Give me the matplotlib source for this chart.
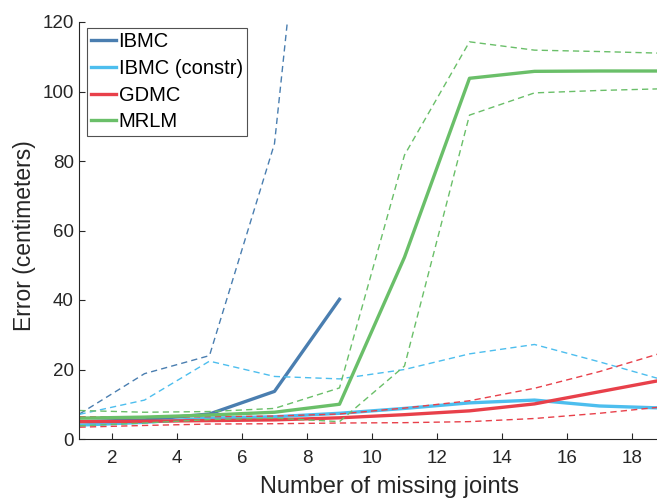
import numpy as np
import matplotlib.pyplot as plt

plt.rcParams['font.family'] = ['Liberation Sans', 'DejaVu Sans']

# number of missing joints
joints = [1, 3, 5, 7, 9, 11, 13, 15, 17, 19]
joints_ibmc = [1, 3, 5, 7, 9]

# mean error and upper/lower bounds (cm)
ibmc_mean = [5.0, 5.5, 7.2, 13.7, 40.2]
ibmc_hi = [7.2, 18.8, 24.0, 85.0, 262.0]
ibmc_lo = [-1.0, -7.8, -9.6, -57.6, -181.6]

constr_mean = [4.0, 4.8, 6.0, 6.4, 7.4, 8.8, 10.4, 11.2, 9.5, 8.9]
constr_hi = [7.1, 11.2, 22.4, 18.0, 17.3, 20.0, 24.5, 27.2, 22.2, 16.9]
constr_lo = [-1.0, -1.6, -10.4, -5.2, -2.5, -2.4, -3.7, -4.8, -3.2, -0.5]

gdmc_mean = [5.0, 5.1, 5.3, 5.5, 6.1, 7.0, 8.1, 10.1, 13.6, 17.1]
gdmc_hi = [6.4, 6.3, 6.4, 6.6, 7.2, 8.9, 11.0, 14.6, 19.4, 25.0]
gdmc_lo = [3.4, 3.9, 4.3, 4.4, 4.6, 4.7, 5.0, 5.9, 7.4, 9.3]

mrlm_mean = [6.0, 6.3, 6.9, 7.7, 10.0, 52.3, 103.8, 105.8, 105.9, 105.9]
mrlm_hi = [8.2, 7.7, 7.9, 8.8, 14.7, 81.7, 114.3, 111.9, 111.5, 111.0]
mrlm_lo = [3.8, 4.6, 5.6, 6.0, 5.0, 21.0, 93.2, 99.6, 100.3, 100.8]

names = ['IBMC', 'IBMC (constr)', 'GDMC', 'MRLM']
colors = ['#4a7eb0', '#4dbeee', '#e8404a', '#6abf69']

series = [
    (joints_ibmc, ibmc_mean, ibmc_hi, ibmc_lo),
    (joints, constr_mean, constr_hi, constr_lo),
    (joints, gdmc_mean, gdmc_hi, gdmc_lo),
    (joints, mrlm_mean, mrlm_hi, mrlm_lo),
]

fig = plt.figure(figsize=(6.57, 5.0), dpi=100)
ax = fig.add_axes([0.121, 0.122, 0.879, 0.834])

for (x, m, hi, lo), name, c in zip(series, names, colors):
    ax.plot(x, hi, color=c, lw=1.0, ls='--', dashes=(4.5, 3))
    ax.plot(x, lo, color=c, lw=1.0, ls='--', dashes=(4.5, 3))
    ax.plot(x, m, color=c, lw=2.4, label=name)

ax.set_xlim(1, 18.77)
ax.set_ylim(0, 120)
ax.set_xticks(np.arange(2, 19, 2))
ax.set_yticks(np.arange(0, 121, 20))

for s in ['top', 'right']:
    ax.spines[s].set_visible(False)
for s in ['left', 'bottom']:
    ax.spines[s].set_color('#262626')
    ax.spines[s].set_linewidth(0.8)
ax.tick_params(direction='in', length=4, width=0.8, colors='#262626',
               labelsize=13.5)
ax.tick_params(axis='x', pad=8)
ax.tick_params(axis='y', pad=4)

ax.set_xlabel('Number of missing joints', fontsize=17, color='#262626')
ax.set_ylabel('Error (centimeters)', fontsize=16.5, color='#262626')
# the full axis runs a little past the visible range, label sits on its middle
ax.xaxis.set_label_coords(0.536, -0.088)
ax.yaxis.set_label_coords(-0.075, 0.487)

leg = ax.legend(loc='upper left', bbox_to_anchor=(0.013, 0.986),
                borderaxespad=0, fontsize=14.5, frameon=True, fancybox=False,
                handlelength=1.2, handletextpad=0.15, labelspacing=0.38,
                borderpad=0.22)
leg.get_frame().set_edgecolor('#262626')
leg.get_frame().set_linewidth(0.8)

fig.savefig('out.png', dpi=100)
